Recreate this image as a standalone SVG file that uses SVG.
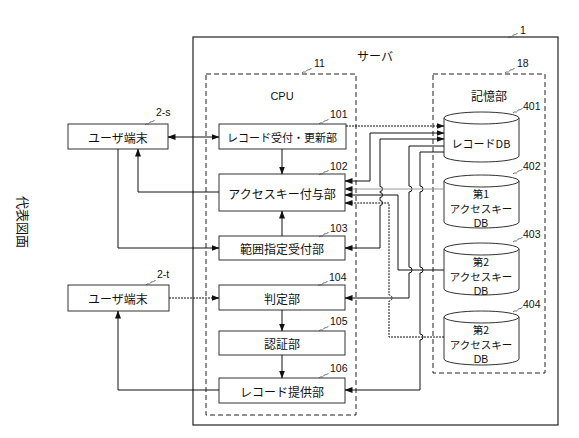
<svg xmlns="http://www.w3.org/2000/svg" width="579" height="438" viewBox="0 0 579 438">
<style>
.box{fill:#fff;stroke:#333;stroke-width:1}
.frame{fill:none;stroke:#222;stroke-width:1.2}
.dash{fill:none;stroke:#222;stroke-width:1;stroke-dasharray:5,3}
.jp{font-family:"Noto Sans CJK JP","Noto Sans",sans-serif;font-size:12px;fill:#111;text-anchor:middle;dominant-baseline:central}
.dbt{font-family:"Noto Sans CJK JP","Noto Sans",sans-serif;font-size:10.5px;fill:#111;text-anchor:middle;dominant-baseline:central}
.lat{font-family:"Liberation Sans",Arial,sans-serif}
.num{font-family:"Liberation Sans",Arial,sans-serif;font-size:10.5px;fill:#111}
.ln{fill:none;stroke:#111;stroke-width:1}
.dot{stroke-dasharray:2,1}
.gray{stroke:#999}
.sq{fill:none;stroke:#444;stroke-width:0.8}
.db{fill:#fff;stroke:#333;stroke-width:1}
</style>
<defs>
<marker id="ah" markerUnits="userSpaceOnUse" markerWidth="8" markerHeight="6" refX="7.5" refY="3" orient="auto-start-reverse">
<path d="M0,0 L8,3 L0,6 z" fill="#111"/>
</marker>
<path id="sq" d="M0,0 c1.5,-2.5 3,0.5 4.5,-2 s3,0 5,-3"/>
</defs>

<text class="jp" transform="rotate(90 23 222)" x="23" y="222" style="font-size:13px">代表図面</text>

<g id="server">
<rect class="frame" x="193" y="37" width="365" height="388"/>
<text class="jp" x="375" y="55">サーバ</text>
<use href="#sq" class="sq" x="508" y="38"/>
<text class="num" x="520" y="34">1</text>
</g>

<g id="cpu">
<rect class="dash" x="206" y="74" width="150" height="341"/>
<text class="jp lat" x="282" y="96" style="font-size:11px">CPU</text>
<use href="#sq" class="sq" x="302" y="73"/>
<text class="num" x="314" y="67">11</text>
</g>

<g id="storage">
<rect class="dash" x="433" y="74" width="112" height="299"/>
<text class="jp" x="489" y="95">記憶部</text>
<use href="#sq" class="sq" x="505" y="73"/>
<text class="num" x="517" y="67">18</text>
</g>

<g id="terminal-s">
<rect class="box" x="68" y="124" width="100" height="25"/>
<text class="jp" x="118" y="137">ユーザ端末</text>
<use href="#sq" class="sq" x="145" y="125"/>
<text class="num" x="156" y="116">2-s</text>
</g>

<g id="terminal-t">
<rect class="box" x="68" y="285" width="101" height="26"/>
<text class="jp" x="118" y="298">ユーザ端末</text>
<use href="#sq" class="sq" x="146" y="285"/>
<text class="num" x="157" y="278">2-t</text>
</g>

<g id="n101">
<rect class="box" x="219" y="124" width="127" height="25"/>
<text class="jp" x="282" y="137" style="font-size:11px">レコード受付・更新部</text>
<use href="#sq" class="sq" x="319" y="124"/>
<text class="num" x="330" y="118">101</text>
</g>

<g id="n102">
<rect class="box" x="219" y="174" width="126" height="37"/>
<text class="jp" x="282" y="193">アクセスキー付与部</text>
<use href="#sq" class="sq" x="319" y="175"/>
<text class="num" x="330" y="170">102</text>
</g>

<g id="n103">
<rect class="box" x="219" y="236" width="126" height="24"/>
<text class="jp" x="282" y="248">範囲指定受付部</text>
<use href="#sq" class="sq" x="319" y="237"/>
<text class="num" x="330" y="232">103</text>
</g>

<g id="n104">
<rect class="box" x="219" y="285" width="126" height="25"/>
<text class="jp" x="282" y="298">判定部</text>
<use href="#sq" class="sq" x="318" y="286"/>
<text class="num" x="329" y="281">104</text>
</g>

<g id="n105">
<rect class="box" x="219" y="331" width="126" height="24"/>
<text class="jp" x="282" y="343">認証部</text>
<use href="#sq" class="sq" x="319" y="331"/>
<text class="num" x="330" y="325">105</text>
</g>

<g id="n106">
<rect class="box" x="219" y="378" width="126" height="25"/>
<text class="jp" x="282" y="391">レコード提供部</text>
<use href="#sq" class="sq" x="319" y="378"/>
<text class="num" x="330" y="372">106</text>
</g>

<g id="db401">
<path class="db" d="M444,118 V156 A37.5,6 0 0 0 519,156 V118"/>
<ellipse class="db" cx="481.5" cy="118" rx="37.5" ry="6"/>
<text class="jp" x="481" y="143" style="font-size:11px">レコードDB</text>
<use href="#sq" class="sq" x="513" y="113"/>
<text class="num" x="523" y="110">401</text>
</g>

<g id="db402">
<path class="db" d="M444,181 V222 A37.5,6 0 0 0 519,222 V181"/>
<ellipse class="db" cx="481.5" cy="181" rx="37.5" ry="6"/>
<text class="dbt" x="481" y="193">第1</text>
<text class="dbt" x="481" y="208">アクセスキー</text>
<text class="dbt lat" x="481" y="223">DB</text>
<use href="#sq" class="sq" x="513" y="174"/>
<text class="num" x="523" y="170">402</text>
</g>

<g id="db403">
<path class="db" d="M444,249 V289 A37.5,6 0 0 0 519,289 V249"/>
<ellipse class="db" cx="481.5" cy="249" rx="37.5" ry="6"/>
<text class="dbt" x="481" y="261">第2</text>
<text class="dbt" x="481" y="276">アクセスキー</text>
<text class="dbt lat" x="481" y="291">DB</text>
<use href="#sq" class="sq" x="513" y="242"/>
<text class="num" x="523" y="238">403</text>
</g>

<g id="db404">
<path class="db" d="M444,317 V359 A37.5,6 0 0 0 519,359 V317"/>
<ellipse class="db" cx="481.5" cy="317" rx="37.5" ry="6"/>
<text class="dbt" x="481" y="329">第2</text>
<text class="dbt" x="481" y="344">アクセスキー</text>
<text class="dbt lat" x="481" y="359">DB</text>
<use href="#sq" class="sq" x="513" y="312"/>
<text class="num" x="523" y="308">404</text>
</g>

<g id="connectors">
<path class="ln" d="M168,137 H219" marker-start="url(#ah)" marker-end="url(#ah)"/>
<path class="ln" d="M219,192 H138 V149" marker-end="url(#ah)"/>
<path class="ln" d="M118,149 V248 H219" marker-end="url(#ah)"/>
<path class="ln" d="M282,149 V174" marker-end="url(#ah)"/>
<path class="ln" d="M282,236 V211" marker-end="url(#ah)"/>
<path class="ln dot" d="M169,298 H219" marker-end="url(#ah)"/>
<path class="ln" d="M282,310 V331" marker-end="url(#ah)"/>
<path class="ln" d="M282,355 V378" marker-end="url(#ah)"/>
<path class="ln" d="M219,390 H118 V311" marker-end="url(#ah)"/>
<path class="ln dot" d="M346,126 H444" marker-end="url(#ah)"/>
<path class="ln" d="M444,133 H370 V181 H345" marker-start="url(#ah)" marker-end="url(#ah)"/>
<path class="ln" d="M444,139 H380 V186.5 A2.5,2.5 0 0 1 380,191.5 V192.5 A2.5,2.5 0 0 1 380,197.5 V200.5 A2.5,2.5 0 0 1 380,205.5 V248 H345" marker-start="url(#ah)" marker-end="url(#ah)"/>
<path class="ln" d="M444,146 H409 V186 A3,3 0 0 1 409,192 V267 A3,3 0 0 1 409,273 V298 H345" marker-end="url(#ah)"/>
<path class="ln" d="M444,152 H420 V186 A3,3 0 0 1 420,192 V267 A3,3 0 0 1 420,273 V334 A3,3 0 0 1 420,340 V390 H345" marker-end="url(#ah)"/>
<path class="ln gray" d="M444,189 H345" marker-end="url(#ah)"/>
<path class="ln" d="M444,270 H398 V195 H345" marker-end="url(#ah)"/>
<path class="ln dot" d="M444,337 H389 V301 A3,3 0 0 0 389,295 V203 H345" marker-end="url(#ah)"/>
</g>
</svg>
